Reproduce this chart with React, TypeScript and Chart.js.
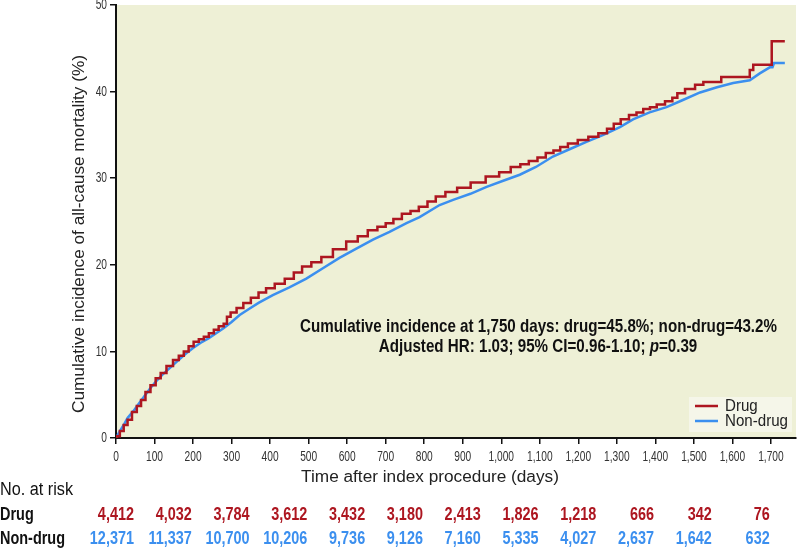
import React, { useEffect, useRef } from 'react';
import { Chart, registerables } from 'chart.js';

Chart.register(...registerables);

// ---- Data ----
const drugDays = [0, 5, 15, 25, 35, 48, 60, 70, 83, 96, 110, 122, 140, 156, 170, 182, 195, 208, 222, 234, 248, 260, 273, 286, 290, 305, 321, 340, 360, 380, 399, 425, 451, 472, 494, 520, 546, 580, 615, 640, 667, 690, 710, 730, 754, 775, 797, 820, 840, 870, 901, 940, 979, 1010, 1039, 1060, 1083, 1105, 1126, 1145, 1161, 1185, 1212, 1240, 1264, 1285, 1299, 1321, 1342, 1360, 1377, 1395, 1412, 1438, 1450, 1464, 1490, 1516, 1533, 1566, 1576, 1643, 1647, 1652, 1656, 1700, 1704, 1736];
const drugValues = [0, 0.2, 0.8, 1.5, 2.1, 3.0, 3.7, 4.4, 5.3, 6.1, 6.9, 7.5, 8.3, 9.0, 9.5, 10.0, 10.6, 11.1, 11.4, 11.7, 12.1, 12.5, 12.9, 13.2, 14.0, 14.5, 15.0, 15.6, 16.2, 16.8, 17.3, 17.8, 18.4, 19.1, 19.8, 20.3, 20.9, 21.8, 22.7, 23.3, 24.0, 24.4, 24.8, 25.3, 25.9, 26.2, 26.7, 27.3, 27.9, 28.4, 28.9, 29.5, 30.2, 30.7, 31.3, 31.6, 32.0, 32.4, 32.9, 33.2, 33.6, 34.0, 34.4, 34.8, 35.2, 35.7, 36.3, 36.8, 37.3, 37.6, 38.0, 38.2, 38.5, 38.9, 39.3, 39.8, 40.3, 40.8, 41.1, 41.1, 41.7, 41.7, 42.5, 42.5, 43.1, 43.1, 45.8, 45.8];

const nonDrugDays = [0, 10, 20, 30, 45, 60, 75, 90, 105, 120, 140, 160, 180, 200, 220, 240, 260, 280, 300, 321, 345, 370, 407, 450, 494, 537, 580, 625, 667, 710, 754, 788, 840, 875, 920, 962, 1005, 1048, 1090, 1134, 1180, 1221, 1265, 1308, 1342, 1385, 1429, 1470, 1516, 1560, 1602, 1645, 1671, 1697, 1704, 1708, 1736];
const nonDrugValues = [0, 0.8, 1.5, 2.3, 3.1, 4.0, 4.9, 5.8, 6.6, 7.3, 8.1, 8.9, 9.7, 10.4, 11.0, 11.5, 12.1, 12.7, 13.4, 14.2, 14.9, 15.6, 16.5, 17.4, 18.4, 19.6, 20.8, 21.9, 22.9, 23.8, 24.8, 25.5, 26.9, 27.5, 28.2, 29.0, 29.7, 30.4, 31.3, 32.5, 33.4, 34.2, 35.0, 35.9, 36.8, 37.6, 38.2, 39.0, 39.9, 40.5, 41.0, 41.3, 42.1, 42.8, 42.8, 43.3, 43.3];

const riskDays = [0, 150, 300, 450, 600, 750, 900, 1050, 1200, 1350, 1500, 1650];
const riskDrug = [4412, 4032, 3784, 3612, 3432, 3180, 2413, 1826, 1218, 666, 342, 76];
const riskNonDrug = [12371, 11337, 10700, 10206, 9736, 9126, 7160, 5335, 4027, 2637, 1642, 632];

const seriesLabels = ['Drug', 'Non-drug'];
const yTitle = 'Cumulative incidence of all-cause mortality (%)';
const xTitle = 'Time after index procedure (days)';
const riskTitle = 'No. at risk';
const annotationLine1 = 'Cumulative incidence at 1,750 days: drug=45.8%; non-drug=43.2%';
const annotationLine2 = ['Adjusted HR: 1.03; 95% CI=0.96-1.10; ', 'p', '=0.39'];

// ---- Styles ----
const FONT = '"Liberation Sans", Arial, sans-serif';
const RED = '#AD1620';
const BLUE = '#3B8FEF';
const BG = '#EEF0D6';
const LEGEND_BG = '#F5F6E9';
const TEXT = '#222222';
const TICK_SX = 0.68; // horizontal condensation for tick text

const fmt = (n: number) => n.toLocaleString('en-US');

function drawText(ctx: CanvasRenderingContext2D, text: string, x: number, y: number, font: string, color: string, align: 'left' | 'center' | 'right', sx: number) {
  ctx.save();
  ctx.font = font;
  ctx.fillStyle = color;
  ctx.textBaseline = 'middle';
  ctx.textAlign = 'left';
  const w = ctx.measureText(text).width * sx;
  const left = align === 'center' ? x - w / 2 : align === 'right' ? x - w : x;
  ctx.translate(left, y);
  ctx.scale(sx, 1);
  ctx.fillText(text, 0, 0);
  ctx.restore();
  return w;
}

function fitScale(ctx: CanvasRenderingContext2D, text: string, font: string, target: number) {
  ctx.save();
  ctx.font = font;
  const w = ctx.measureText(text).width;
  ctx.restore();
  return target / w;
}

const customPlugin = {
  id: 'customDecor',
  beforeDraw(chart: any) {
    const { ctx, chartArea: a } = chart;
    ctx.save();
    ctx.fillStyle = BG;
    ctx.fillRect(a.left, a.top, a.right - a.left, a.bottom - a.top);
    ctx.restore();
  },
  afterDraw(chart: any) {
    const ctx: CanvasRenderingContext2D = chart.ctx;
    const a = chart.chartArea;
    const xs = chart.scales.x;
    const ys = chart.scales.y;

    // Tick labels
    const tickFont = `15px ${FONT}`;
    xs.ticks.forEach((t: any) => {
      drawText(ctx, fmt(t.value), xs.getPixelForValue(t.value), a.bottom + 19, tickFont, '#333333', 'center', TICK_SX);
    });
    ys.ticks.forEach((t: any) => {
      drawText(ctx, String(t.value), a.left - 9, ys.getPixelForValue(t.value), tickFont, '#333333', 'right', TICK_SX);
    });

    // Y title
    const tFont = `16px ${FONT}`;
    const tsx = fitScale(ctx, yTitle, tFont, 358);
    ctx.save();
    ctx.translate(80, 234);
    ctx.rotate(-Math.PI / 2);
    drawText(ctx, yTitle, 0, 0, tFont, TEXT, 'center', tsx);
    ctx.restore();

    // X title
    drawText(ctx, xTitle, 430, 478, tFont, TEXT, 'center', tsx);

    // Annotation
    const bold = `bold 19px ${FONT}`;
    const boldItalic = `italic bold 19px ${FONT}`;
    const asx = fitScale(ctx, annotationLine1, bold, 477);
    drawText(ctx, annotationLine1, 538.5, 327, bold, '#111111', 'center', asx);
    const fonts = [bold, boldItalic, bold];
    let total = 0;
    const widths = annotationLine2.map((t, i) => {
      ctx.save();
      ctx.font = fonts[i];
      const w = ctx.measureText(t).width * asx;
      ctx.restore();
      total += w;
      return w;
    });
    let x0 = 538 - total / 2;
    annotationLine2.forEach((t, i) => {
      drawText(ctx, t, x0, 347, fonts[i], '#111111', 'left', asx);
      x0 += widths[i];
    });

    // Legend
    ctx.save();
    ctx.fillStyle = LEGEND_BG;
    ctx.fillRect(689, 397, 103, 35);
    ctx.restore();
    const legendColors = [RED, BLUE];
    const lFont = `17px ${FONT}`;
    const lsx = fitScale(ctx, seriesLabels[1], lFont, 63);
    seriesLabels.forEach((lab, i) => {
      const y = 406 + i * 15;
      ctx.save();
      ctx.strokeStyle = legendColors[i];
      ctx.lineWidth = 2.5;
      ctx.beginPath();
      ctx.moveTo(695, y);
      ctx.lineTo(718, y);
      ctx.stroke();
      ctx.restore();
      drawText(ctx, lab, 725, y, lFont, TEXT, 'left', lsx);
    });

    // Risk table
    const rFont = `18px ${FONT}`;
    drawText(ctx, riskTitle, 0, 490, rFont, '#111111', 'left', fitScale(ctx, riskTitle, rFont, 73));
    const bFont = `bold 19px ${FONT}`;
    const nsx = fitScale(ctx, seriesLabels[1], bFont, 65);
    drawText(ctx, seriesLabels[0], 0, 515, bFont, '#111111', 'left', nsx);
    drawText(ctx, seriesLabels[1], 0, 539, bFont, '#111111', 'left', nsx);
    const numSx = 0.76;
    riskDays.forEach((d, i) => {
      const px = xs.getPixelForValue(d) + 18;
      drawText(ctx, fmt(riskDrug[i]), px, 515, bFont, RED, 'right', numSx);
      drawText(ctx, fmt(riskNonDrug[i]), px, 539, bFont, BLUE, 'right', numSx);
    });
  },
};

export default function App() {
  const ref = useRef<HTMLCanvasElement | null>(null);

  useEffect(() => {
    document.body.style.margin = '0';
    const canvas = ref.current;
    if (!canvas) return;
    const chart = new Chart(canvas, {
      type: 'line',
      data: {
        datasets: [
          {
            label: seriesLabels[0],
            data: drugDays.map((d, i) => ({ x: d, y: drugValues[i] })),
            borderColor: RED,
            backgroundColor: RED,
            borderWidth: 2.5,
            pointRadius: 0,
            stepped: 'middle',
            fill: false,
          },
          {
            label: seriesLabels[1],
            data: nonDrugDays.map((d, i) => ({ x: d, y: nonDrugValues[i] })),
            borderColor: BLUE,
            backgroundColor: BLUE,
            borderWidth: 2.5,
            pointRadius: 0,
            stepped: false,
            tension: 0,
            fill: false,
          },
        ],
      },
      options: {
        responsive: false,
        animation: false,
        devicePixelRatio: 1,
        layout: { padding: { top: 5, right: 5, bottom: 0, left: 0 } },
        plugins: {
          legend: { display: false },
          tooltip: { enabled: false },
        },
        scales: {
          x: {
            type: 'linear',
            min: 0,
            max: 1765,
            afterFit: (s: any) => { s.height = 112; },
            ticks: {
              display: false,
              stepSize: 100,
              includeBounds: false,
              autoSkip: false,
            },
            grid: { display: true, drawOnChartArea: false, drawTicks: true, tickLength: 6, color: '#111111', lineWidth: 1.5 },
            border: { display: true, color: '#111111', width: 2 },
          },
          y: {
            min: 0,
            max: 50,
            afterFit: (s: any) => { s.width = 116; },
            ticks: {
              display: false,
              stepSize: 10,
            },
            grid: { display: true, drawOnChartArea: false, drawTicks: true, tickLength: 6, color: '#111111', lineWidth: 1.5 },
            border: { display: true, color: '#111111', width: 2 },
          },
        },
      },
      plugins: [customPlugin],
    });
    return () => chart.destroy();
  }, []);

  return (
    <div style={{ width: 801, height: 550 }}>
      <canvas ref={ref} width={801} height={550} style={{ display: 'block' }} />
    </div>
  );
}
